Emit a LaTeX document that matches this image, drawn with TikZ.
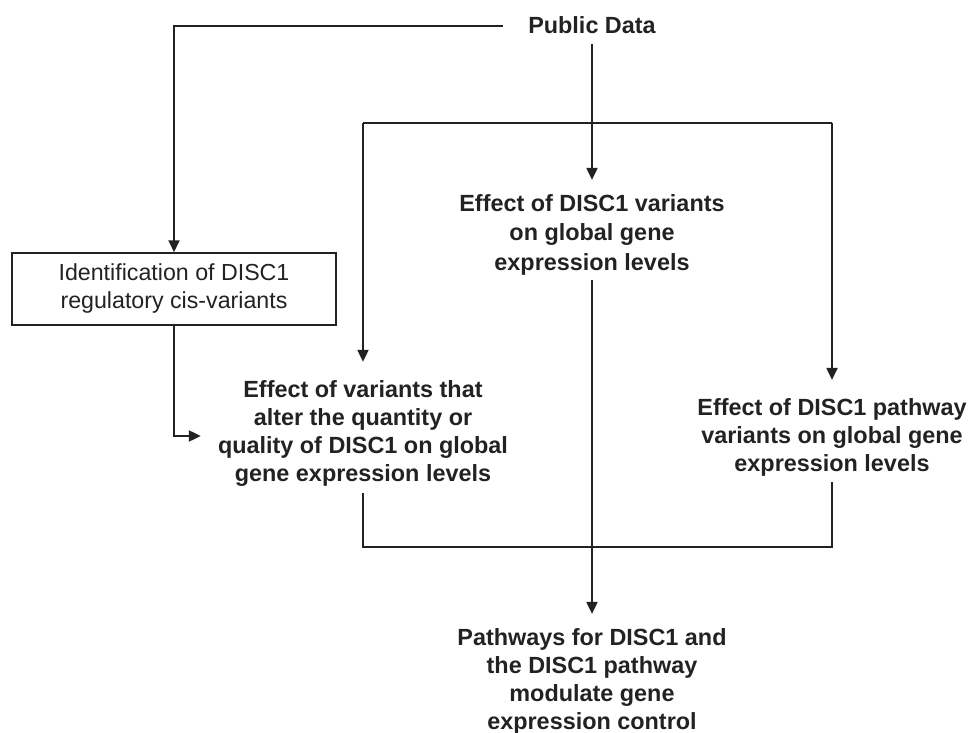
\documentclass[tikz,border=0pt]{standalone}
\usepackage{fontspec}
\setmainfont{Liberation Sans}
\usetikzlibrary{arrows.meta,calc}
\definecolor{ink}{HTML}{222222}
\begin{document}
\begin{tikzpicture}[x=1pt,y=-1pt,
  line/.style={draw=ink,line width=2pt},
  arr/.style={line,-{Triangle[length=12pt,width=11pt]}},
  bold/.style={font=\fontsize{23.4}{28}\selectfont\bfseries,text=ink,align=center,inner sep=0pt},
  plain/.style={font=\fontsize{23.2}{28}\selectfont,text=ink,align=center,inner sep=0pt},
  frame/.style={draw=ink,line width=1.5pt,minimum width=324pt,minimum height=72pt,inner sep=0pt}]
\useasboundingbox (0,0) rectangle (970,733);
\node[bold] (pd) at (592,25) {Public Data};
\node[bold,font=\fontsize{23.4}{29.5}\selectfont\bfseries] (e1) at (592,234.5) {Effect of DISC1 variants\\on global gene\\expression levels};
\node[plain,frame] (box) at (174,289) {Identification of DISC1\\regulatory cis-variants};
\node[bold] (ev) at (363,433) {Effect of variants that\\alter the quantity or\\quality of DISC1 on global\\gene expression levels};
\node[bold] (ep) at (832,437) {Effect of DISC1 pathway\\variants on global gene\\expression levels};
\node[bold] (pw) at (592,681) {Pathways for DISC1 and\\the DISC1 pathway\\modulate gene\\expression control};
\coordinate (ftop) at (592,123);
\coordinate (fbot) at (592,547);
% Public data to box
\draw[arr] ([xshift=-25pt,yshift=-1.5pt]pd.west) -| (box.north);
% Public data to e1
\draw[arr,shorten <=10pt,shorten >=14pt] (pd.south) -- (e1.north);
% top frame
\draw[line] (ev.north |- ftop) -- (ep.north |- ftop);
\draw[arr,shorten >=18pt] (ev.north |- ftop) -- (ev.north);
\draw[arr,shorten >=18pt] (ep.north |- ftop) -- (ep.north);
% box to ev
\draw[arr,shorten >=17pt] (box.south) |- ([yshift=-3pt]ev.west);
% bottom frame
\draw[line,shorten <=7pt,shorten >=6pt] (ev.south) |- (ep.south |- fbot) -- (ep.south);
% e1 to pathways
\draw[arr,shorten <=5pt,shorten >=14pt] (e1.south) -- (pw.north);
\end{tikzpicture}
\end{document}
